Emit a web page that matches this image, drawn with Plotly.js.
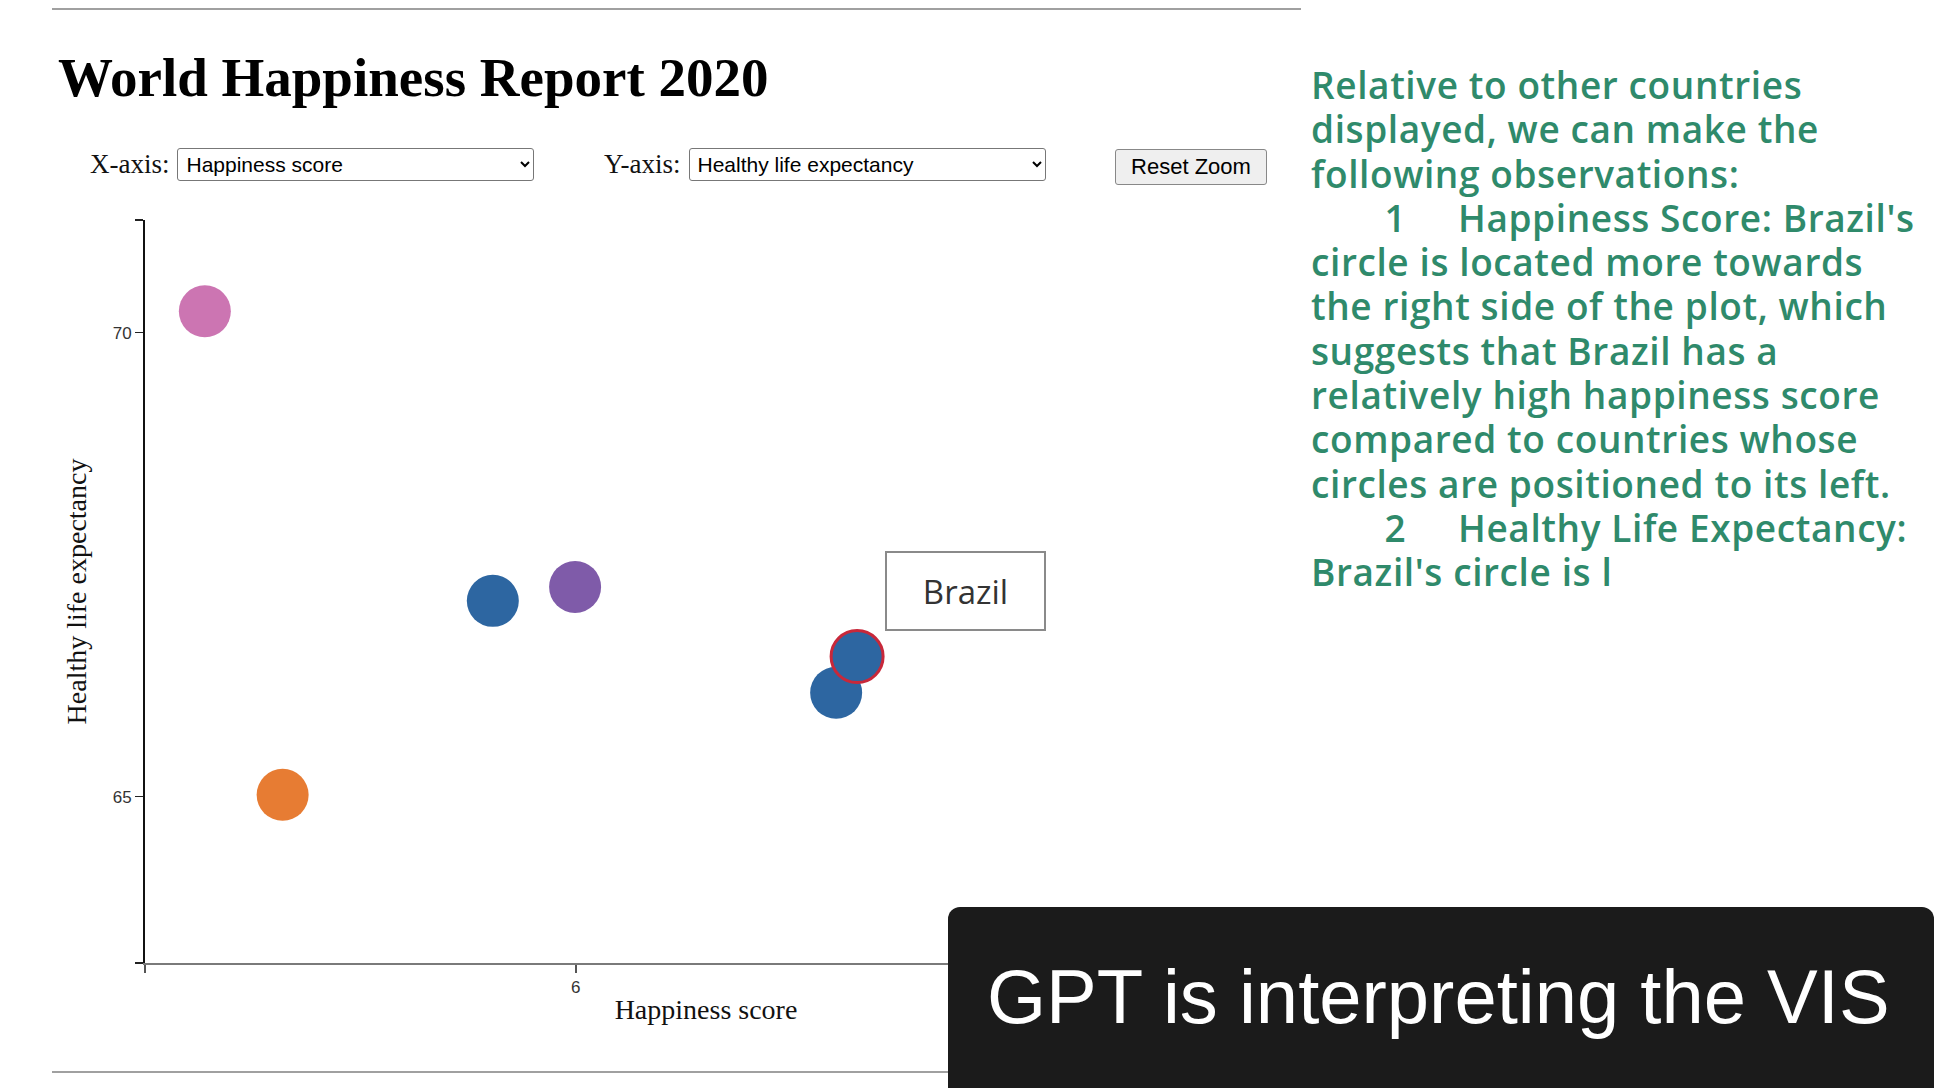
<!DOCTYPE html>
<html>
<head>
<meta charset="utf-8">
<script src="https://cdn.plot.ly/plotly-3.0.1.min.js"></script>
<style>
  html, body { margin: 0; padding: 0; background: #fff; width: 1934px; height: 1088px; overflow: hidden; }
  .rule { position: absolute; height: 0; border-top: 2px solid #a0a0a0; }
  h1 { position: absolute; left: 58px; top: 46px; margin: 0; font: bold 55px "Liberation Serif", serif; color: #000; }
  .ctl { position: absolute; top: 148px; height: 33px; display: flex; align-items: center; font: 27px "Liberation Serif", serif; color: #111; }
  .ctl select { margin-left: 8px; width: 357px; height: 33px; font: 21px "Liberation Sans", sans-serif; border: 1px solid #777; border-radius: 3px; background: #fff; padding-left: 4px; }
  #reset { position: absolute; left: 1115px; top: 149px; width: 152px; height: 36px; font: 22px "Liberation Sans", sans-serif; background: #efefef; border: 1px solid #888; border-radius: 3px; color: #000; }
  #chart { position: absolute; left: 0; top: 0; width: 1300px; height: 1088px; }
  #notes { position: absolute; left: 1311px; top: 63px; margin: 0; font: 600 37px "Open Sans", sans-serif; letter-spacing: 0.6px; line-height: 44.3px; color: #2f8a6b; white-space: pre; tab-size: 73.5px; -moz-tab-size: 73.5px; }
  #overlay { position: absolute; left: 948px; top: 907px; width: 986px; height: 200px; background: #1b1b1b; border-radius: 12px; }
  #overlay span { position: absolute; left: 39px; top: 46px; font: 76px "Liberation Sans", sans-serif; color: #fff; white-space: nowrap; }
</style>
</head>
<body>
<div class="rule" style="left:52px; top:8px; width:1249px;"></div>
<div id="chart"></div>
<h1>World Happiness Report 2020</h1>
<div class="ctl" style="left:90px;">X-axis:
  <select><option>Happiness score</option></select>
</div>
<div class="ctl" style="left:604px;">Y-axis:
  <select><option>Healthy life expectancy</option></select>
</div>
<button id="reset">Reset Zoom</button>
<div id="notes">Relative to other countries
displayed, we can make the
following observations:
	1	Happiness Score: Brazil's
circle is located more towards
the right side of the plot, which
suggests that Brazil has a
relatively high happiness score
compared to countries whose
circles are positioned to its left.
	2	Healthy Life Expectancy:
Brazil's circle is l</div>
<div class="rule" style="left:52px; top:1071px; width:1249px;"></div>
<div id="overlay"><span>GPT is interpreting the VIS</span></div>

<script>
// values (Brazil is the highlighted one)
var countries = ['', '', '', '', '', 'Brazil'];
var happiness = [5.504, 5.608, 5.889, 5.999, 6.348, 6.376];
var lifeExpectancy = [70.23, 65.02, 67.11, 67.26, 66.12, 66.51];
var groups = [3, 1, 0, 2, 0, 0];

var xRange = [5.424, 6.924];
var yRange = [63.208, 71.214];
var xTicks = [6];
var yTicks = [65, 70];

var palette = ['#2d66a1', '#e77c33', '#7f5ba9', '#cc75b2'];
var highlight = 'Brazil';

var colors = groups.map(function (g) { return palette[g]; });
var lineColors = countries.map(function (c) { return c === highlight ? '#c8283a' : 'rgba(0,0,0,0)'; });
var lineWidths = countries.map(function (c) { return c === highlight ? 3 : 0; });

// d3-style outer ticks at both ends of each axis
function withEnds(range, ticks) {
  return {
    vals: [range[0]].concat(ticks, [range[1]]),
    text: [''].concat(ticks.map(String), [''])
  };
}
var xt = withEnds(xRange, xTicks);
var yt = withEnds(yRange, yTicks);

var hi = countries.indexOf(highlight);

var data = [{
  type: 'scatter',
  mode: 'markers',
  x: happiness,
  y: lifeExpectancy,
  text: countries,
  hoverinfo: 'text',
  marker: { size: 52, color: colors, opacity: 1, line: { color: lineColors, width: lineWidths } }
}];

var layout = {
  width: 1300,
  height: 1088,
  margin: { l: 145, r: 33, t: 220, b: 125 },
  paper_bgcolor: 'rgba(0,0,0,0)',
  plot_bgcolor: 'rgba(0,0,0,0)',
  showlegend: false,
  xaxis: {
    range: xRange,
    showgrid: false, zeroline: false,
    showline: true, linecolor: '#7a7a7a', linewidth: 2,
    ticks: 'outside', ticklen: 8, tickwidth: 1.5, tickcolor: '#555',
    tickmode: 'array', tickvals: xt.vals, ticktext: xt.text,
    tickfont: { family: 'Liberation Sans, sans-serif', size: 17, color: '#333' },
    title: { text: 'Happiness score', standoff: 3,
             font: { family: 'Liberation Serif, serif', size: 28, color: '#111' } }
  },
  yaxis: {
    range: yRange,
    showgrid: false, zeroline: false,
    showline: true, linecolor: '#111', linewidth: 2,
    ticks: 'outside', ticklen: 8, tickwidth: 1.5, tickcolor: '#222',
    tickmode: 'array', tickvals: yt.vals, ticktext: yt.text,
    tickfont: { family: 'Liberation Sans, sans-serif', size: 17, color: '#333' },
    title: { text: 'Healthy life expectancy', standoff: 18,
             font: { family: 'Liberation Serif, serif', size: 28, color: '#111' } }
  },
  annotations: [{
    x: happiness[hi], y: lifeExpectancy[hi],
    xref: 'x', yref: 'y',
    text: highlight,
    showarrow: false,
    xanchor: 'left', yanchor: 'bottom',
    xshift: 28, yshift: 26,
    width: 157, height: 76,
    borderpad: 0,
    bgcolor: '#fff', bordercolor: '#8a8a8a', borderwidth: 2,
    font: { family: 'Open Sans, sans-serif', size: 33, color: '#333' }
  }]
};

Plotly.newPlot('chart', data, layout, { displayModeBar: false, staticPlot: true });
</script>
</body>
</html>
